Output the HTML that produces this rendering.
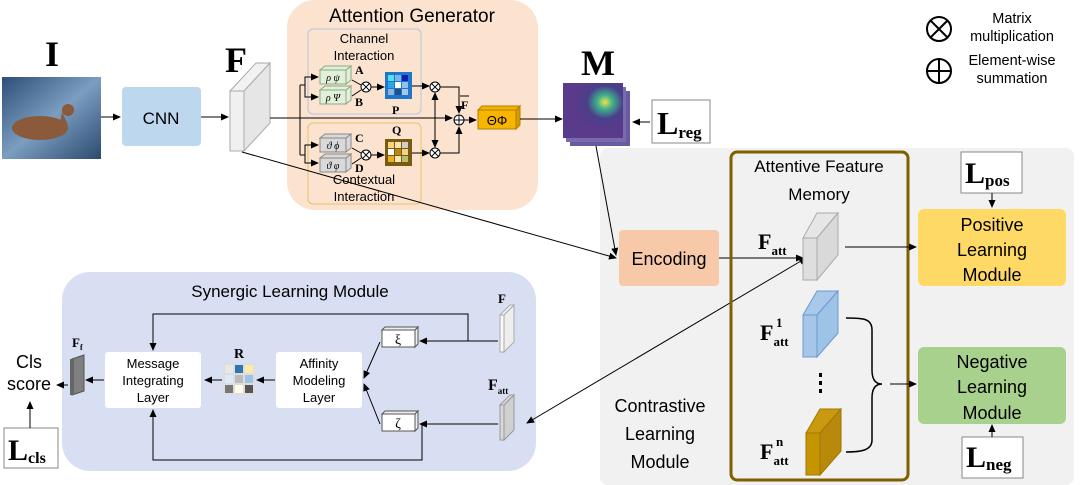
<!DOCTYPE html>
<html><head><meta charset="utf-8"><style>
html,body{margin:0;padding:0;background:#fff}
svg{display:block}
.s{font-family:"Liberation Sans","DejaVu Sans",sans-serif}
.r{font-family:"Liberation Serif",serif;font-weight:bold}
</style></head><body>
<svg width="1080" height="485" viewBox="0 0 1080 485" xmlns="http://www.w3.org/2000/svg">
<defs>
<marker id="a" markerWidth="8" markerHeight="8" refX="7" refY="4" orient="auto-start-reverse" markerUnits="userSpaceOnUse"><path d="M0,0.5 L8,4 L0,7.5z" fill="#000"/></marker>
<linearGradient id="w" x1="0" y1="0" x2="1" y2="1"><stop offset="0" stop-color="#2d4f78"/><stop offset=".5" stop-color="#7a9dc0"/><stop offset="1" stop-color="#2b4a6e"/></linearGradient>
<radialGradient id="hm" cx=".7" cy=".35" r=".5"><stop offset="0" stop-color="#f4e04a"/><stop offset=".25" stop-color="#3fb38a"/><stop offset=".6" stop-color="#4a3f8c"/><stop offset="1" stop-color="#5a3a8a"/></radialGradient>
</defs>
<!-- panels -->
<rect x="287" y="0" width="251" height="210" rx="28" fill="#fbe3d0"/>
<rect x="600" y="148" width="474" height="337" rx="8" fill="#f1f1f1"/>
<rect x="62" y="272" width="474" height="199" rx="28" fill="#d9dff2"/>
<text x="412" y="22" class="s" font-size="19" text-anchor="middle">Attention Generator</text>
<rect x="308" y="29" width="113" height="85" rx="5" fill="none" stroke="#b9c3de"/>
<rect x="308" y="123" width="113" height="81" rx="5" fill="none" stroke="#e9c06a"/>
<text x="364" y="43" class="s" font-size="13" text-anchor="middle">Channel</text>
<text x="364" y="60" class="s" font-size="13" text-anchor="middle">Interaction</text>
<text x="364" y="184" class="s" font-size="13" text-anchor="middle">Contextual</text>
<text x="364" y="201" class="s" font-size="13" text-anchor="middle">Interaction</text>
<!-- image -->
<rect x="2" y="77" width="99" height="82" fill="url(#w)"/>
<ellipse cx="40" cy="128" rx="28" ry="12" fill="#8a5a3a"/>
<circle cx="68" cy="110" r="6" fill="#8a5a3a"/>
<path d="M62,112 L68,125 L60,124z" fill="#8a5a3a"/>
<text x="52" y="66" class="r" font-size="36" text-anchor="middle">I</text>
<rect x="122" y="87" width="79" height="59" rx="4" fill="#bdd7ee"/>
<text x="161" y="124" class="s" font-size="17" text-anchor="middle">CNN</text>
<line x1="101" y1="117" x2="120" y2="117" stroke="#000" marker-end="url(#a)"/>
<line x1="201" y1="117" x2="228" y2="117" stroke="#000" marker-end="url(#a)"/>
<!-- F cube -->
<polygon points="230,91 256,63 270,63 244,91" fill="#f2f2f2" stroke="#aaa"/>
<polygon points="244,91 270,63 270,123 244,151" fill="#e6e6e6" stroke="#aaa"/>
<rect x="230" y="91" width="14" height="60" fill="#f0f0f0" stroke="#aaa"/>
<text x="236" y="72" class="r" font-size="36" text-anchor="middle">F</text>
<!-- main line -->
<line x1="270" y1="118" x2="452" y2="118" stroke="#000" marker-end="url(#a)"/>
<polyline points="300,118 300,85 300,155" fill="none" stroke="#000"/>
<line x1="300" y1="85" x2="305" y2="85" stroke="#000"/>
<line x1="300" y1="155" x2="305" y2="155" stroke="#000"/>
<polyline points="305,85 305,77 318,77" fill="none" stroke="#000" marker-end="url(#a)"/>
<polyline points="305,85 305,97 318,97" fill="none" stroke="#000" marker-end="url(#a)"/>
<polyline points="305,155 305,145 318,145" fill="none" stroke="#000" marker-end="url(#a)"/>
<polyline points="305,155 305,163 318,163" fill="none" stroke="#000" marker-end="url(#a)"/>
<!-- small cubes -->
<g font-family="Liberation Serif,serif" font-size="10" font-style="italic">
<g fill="#e2efd9" stroke="#8a8"><rect x="320" y="70" width="26" height="14"/><polygon points="346,70 351,66 351,80 346,84"/><polygon points="320,70 325,66 351,66 346,70"/>
<rect x="320" y="90" width="26" height="14"/><polygon points="346,90 351,86 351,100 346,104"/><polygon points="320,90 325,86 351,86 346,90"/></g>
<text x="333" y="81" text-anchor="middle">ρ ψ</text><text x="333" y="101" text-anchor="middle">ρ Ψ</text>
<g fill="#d9d9d9" stroke="#888"><rect x="320" y="138" width="26" height="14"/><polygon points="346,138 351,134 351,148 346,152"/><polygon points="320,138 325,134 351,134 346,138"/>
<rect x="320" y="158" width="26" height="14"/><polygon points="346,158 351,154 351,168 346,172"/><polygon points="320,158 325,154 351,154 346,158"/></g>
<text x="333" y="149" text-anchor="middle">ϑ ϕ</text><text x="333" y="169" text-anchor="middle">ϑ φ</text>
</g>
<g class="r" font-size="12"><text x="355" y="74">A</text><text x="355" y="106">B</text><text x="355" y="142">C</text><text x="355" y="172">D</text><text x="392" y="114">P</text><text x="392" y="134">Q</text><text x="461" y="109">F</text></g>
<line x1="460" y1="96" x2="469" y2="96" stroke="#000"/>
<line x1="412" y1="86" x2="429" y2="86" stroke="#000" marker-end="url(#a)"/>
<line x1="412" y1="153" x2="429" y2="153" stroke="#000" marker-end="url(#a)"/>
<line x1="435" y1="93" x2="435" y2="147" stroke="#000" marker-start="url(#a)" marker-end="url(#a)"/>
<polyline points="440,87 459,87 459,113" fill="none" stroke="#000" marker-end="url(#a)"/>
<polyline points="440,153 459,153 459,127" fill="none" stroke="#000" marker-end="url(#a)"/>
<line x1="464" y1="120" x2="476" y2="120" stroke="#000" marker-end="url(#a)"/>
<!-- otimes symbols -->
<g fill="#fff" stroke="#000">
<circle cx="366" cy="87" r="5"/><circle cx="366" cy="155" r="5"/><circle cx="435" cy="87" r="5"/><circle cx="435" cy="153" r="5"/><circle cx="459" cy="120" r="5"/>
</g>
<g stroke="#000" stroke-width="0.9">
<path d="M362.5,83.5l7,7M369.5,83.5l-7,7M362.5,151.5l7,7M369.5,151.5l-7,7M431.5,83.5l7,7M438.5,83.5l-7,7M431.5,149.5l7,7M438.5,149.5l-7,7M454,120h10M459,115v10"/>
</g>
<line x1="352" y1="80" x2="361" y2="85" stroke="#000"/><line x1="352" y1="96" x2="361" y2="90" stroke="#000"/>
<line x1="352" y1="148" x2="361" y2="153" stroke="#000"/><line x1="352" y1="164" x2="361" y2="158" stroke="#000"/>
<line x1="371" y1="87" x2="384" y2="87" stroke="#000" marker-end="url(#a)"/>
<line x1="371" y1="155" x2="384" y2="155" stroke="#000" marker-end="url(#a)"/>
<!-- P matrix -->
<rect x="385" y="72" width="27" height="27" fill="#1f77c9"/>
<rect x="388" y="75" width="6" height="6" fill="#55dfe8"/><rect x="395" y="75" width="6" height="6" fill="#7ab6e8"/><rect x="402" y="75" width="6" height="6" fill="#1020b0"/>
<rect x="388" y="82" width="6" height="6" fill="#2fa4e8"/><rect x="395" y="82" width="6" height="6" fill="#fff"/><rect x="402" y="82" width="6" height="6" fill="#8bc2ee"/>
<rect x="388" y="89" width="6" height="6" fill="#8ab4dd"/><rect x="395" y="89" width="6" height="6" fill="#1f4f8c"/><rect x="402" y="89" width="6" height="6" fill="#a8c8e8"/>
<!-- Q matrix -->
<rect x="385" y="139" width="27" height="27" fill="#7a5a10"/>
<rect x="388" y="142" width="6" height="6" fill="#f5d77a"/><rect x="395" y="142" width="6" height="6" fill="#f7e6a8"/><rect x="402" y="142" width="6" height="6" fill="#cfcfcf"/>
<rect x="388" y="149" width="6" height="6" fill="#fff"/><rect x="395" y="149" width="6" height="6" fill="#b78a10"/><rect x="402" y="149" width="6" height="6" fill="#f3d28a"/>
<rect x="388" y="156" width="6" height="6" fill="#e9b020"/><rect x="395" y="156" width="6" height="6" fill="#f7e8b8"/><rect x="402" y="156" width="6" height="6" fill="#b8c070"/>
<!-- ThetaPhi -->
<polygon points="478,110 482,106 520,106 516,110" fill="#f4b400" stroke="#b08000"/>
<polygon points="516,110 520,106 520,125 516,129" fill="#d89a00" stroke="#b08000"/>
<rect x="478" y="110" width="38" height="19" fill="#f7b500" stroke="#b08000"/>
<text x="497" y="125" class="s" font-size="13" text-anchor="middle">ΘΦ</text>
<line x1="520" y1="119" x2="562" y2="119" stroke="#000" marker-end="url(#a)"/>
<!-- M -->
<text x="598" y="75" class="r" font-size="36" text-anchor="middle">M</text>
<rect x="570" y="91" width="60" height="55" fill="#6a5aa0"/>
<rect x="566" y="87" width="60" height="55" fill="#7a6ab0"/>
<rect x="563" y="83" width="60" height="55" fill="url(#hm)"/>
<rect x="652" y="100" width="58" height="43" fill="#fff" stroke="#888"/>
<text x="657" y="134" class="r" font-size="32">L<tspan font-size="17" dy="4">reg</tspan></text>
<line x1="650" y1="122" x2="633" y2="122" stroke="#000" marker-end="url(#a)"/>
<!-- legend -->
<circle cx="939" cy="29" r="12" fill="none" stroke="#000" stroke-width="2"/>
<path d="M931,21l16,16M947,21l-16,16" stroke="#000" stroke-width="2"/>
<circle cx="939" cy="71" r="12" fill="none" stroke="#000" stroke-width="2"/>
<path d="M927,71h24M939,59v24" stroke="#000" stroke-width="2"/>
<g class="s" font-size="14.5" text-anchor="middle"><text x="1012" y="23">Matrix</text><text x="1012" y="41">multiplication</text><text x="1012" y="65">Element-wise</text><text x="1012" y="83">summation</text></g>
<!-- connectors to encoding/memory -->
<line x1="596" y1="146" x2="616" y2="255" stroke="#000" marker-end="url(#a)"/>
<line x1="242" y1="152" x2="616" y2="258" stroke="#000" marker-end="url(#a)"/>
<line x1="806" y1="258" x2="527" y2="423" stroke="#000" marker-start="url(#a)" marker-end="url(#a)"/>
<!-- contrastive -->
<rect x="619" y="230" width="100" height="56" rx="4" fill="#f8c9a8"/>
<text x="669" y="265" class="s" font-size="18" text-anchor="middle">Encoding</text>
<line x1="719" y1="258" x2="803" y2="258" stroke="#000" marker-end="url(#a)"/>
<rect x="731" y="152" width="177" height="328" rx="6" fill="none" stroke="#7f6000" stroke-width="3"/>
<text x="819" y="172" class="s" font-size="17" text-anchor="middle">Attentive Feature</text>
<text x="819" y="200" class="s" font-size="17" text-anchor="middle">Memory</text>
<!-- Fatt gray -->
<polygon points="803,238 817,213 838,213 817,238" fill="#e6e6e6" stroke="#aaa"/>
<polygon points="817,238 838,213 838,255 817,280" fill="#d9d9d9" stroke="#aaa"/>
<rect x="803" y="238" width="14" height="42" fill="#dedede" stroke="#aaa"/>
<!-- blue -->
<polygon points="803,315 817,291 838,291 817,315" fill="#a9c9ea" stroke="#6a9ad0"/>
<polygon points="817,315 838,291 838,333 817,357" fill="#9dc3e6" stroke="#6a9ad0"/>
<rect x="803" y="315" width="14" height="42" fill="#a5c6e8" stroke="#6a9ad0"/>
<!-- gold -->
<polygon points="806,433 820,409 841,409 820,433" fill="#c99a10" stroke="#a07800"/>
<polygon points="820,433 841,409 841,451 820,475" fill="#b8890a" stroke="#a07800"/>
<rect x="806" y="433" width="14" height="42" fill="#c59500" stroke="#a07800"/>
<g class="r"><text x="758" y="249" font-size="22">F<tspan font-size="13" dy="6">att</tspan></text>
<text x="760" y="340" font-size="22">F<tspan font-size="13" dy="6">att</tspan></text><text x="776" y="327" font-size="13">1</text>
<text x="760" y="459" font-size="22">F<tspan font-size="13" dy="6">att</tspan></text><text x="776" y="446" font-size="13">n</text></g>
<g fill="#000"><rect x="819" y="373" width="3" height="4"/><rect x="819" y="381" width="3" height="4"/><rect x="819" y="389" width="3" height="4"/></g>
<path d="M846,318 C862,318 872,318 872,330 L872,370 C872,380 876,384 882,384 C876,384 872,388 872,398 L872,440 C872,450 862,452 846,452" fill="none" stroke="#000" stroke-width="1.5"/>
<line x1="890" y1="384" x2="916" y2="384" stroke="#000" marker-end="url(#a)"/>
<line x1="845" y1="247" x2="916" y2="247" stroke="#000" marker-end="url(#a)"/>
<g class="s" font-size="18" text-anchor="middle"><text x="660" y="412">Contrastive</text><text x="660" y="440">Learning</text><text x="660" y="468">Module</text></g>
<rect x="918" y="209" width="148" height="77" rx="6" fill="#ffd966"/>
<g class="s" font-size="18" text-anchor="middle"><text x="992" y="231">Positive</text><text x="992" y="256">Learning</text><text x="992" y="281">Module</text></g>
<rect x="918" y="347" width="148" height="77" rx="6" fill="#a9d18e"/>
<g class="s" font-size="18" text-anchor="middle"><text x="992" y="368">Negative</text><text x="992" y="393">Learning</text><text x="992" y="419">Module</text></g>
<rect x="961" y="152" width="61" height="41" fill="#fff" stroke="#888"/>
<text x="965" y="183" class="r" font-size="30">L<tspan font-size="17" dy="3">pos</tspan></text>
<line x1="992" y1="193" x2="992" y2="207" stroke="#000" marker-end="url(#a)"/>
<rect x="962" y="437" width="61" height="41" fill="#fff" stroke="#888"/>
<text x="966" y="467" class="r" font-size="30">L<tspan font-size="17" dy="3">neg</tspan></text>
<line x1="992" y1="437" x2="992" y2="425" stroke="#000" marker-end="url(#a)"/>
<!-- synergic -->
<text x="290" y="297" class="s" font-size="17" text-anchor="middle">Synergic Learning Module</text>
<rect x="105" y="352" width="96" height="56" rx="3" fill="#fff"/>
<g class="s" font-size="13" text-anchor="middle"><text x="153" y="368">Message</text><text x="153" y="385">Integrating</text><text x="153" y="402">Layer</text></g>
<rect x="276" y="352" width="86" height="56" rx="3" fill="#fff"/>
<g class="s" font-size="13" text-anchor="middle"><text x="319" y="368">Affinity</text><text x="319" y="385">Modeling</text><text x="319" y="402">Layer</text></g>
<rect x="223" y="363" width="32" height="32" fill="#ddd"/>
<rect x="225" y="365" width="8" height="8" fill="#e8e8e8"/><rect x="235" y="365" width="8" height="8" fill="#2e75b6"/><rect x="245" y="365" width="8" height="8" fill="#ffe9a8"/>
<rect x="225" y="375" width="8" height="8" fill="#ddebf7"/><rect x="235" y="375" width="8" height="8" fill="#bbb"/><rect x="245" y="375" width="8" height="8" fill="#9dc3e6"/>
<rect x="225" y="385" width="8" height="8" fill="#777"/><rect x="235" y="385" width="8" height="8" fill="#fffbe8"/><rect x="245" y="385" width="8" height="8" fill="#555"/>
<text x="239" y="358" class="r" font-size="14" text-anchor="middle">R</text>
<line x1="275" y1="380" x2="257" y2="380" stroke="#000" marker-end="url(#a)"/>
<line x1="222" y1="380" x2="205" y2="380" stroke="#000" marker-end="url(#a)"/>
<line x1="104" y1="380" x2="86" y2="380" stroke="#000" marker-end="url(#a)"/>
<!-- Ff -->
<polygon points="72,359 84,355 84,391 72,395" fill="#7f7f7f" stroke="#555"/>
<rect x="70" y="359" width="4" height="36" fill="#666"/>
<text x="72" y="347" class="r" font-size="13">F<tspan font-size="8" dy="3">f</tspan></text>
<text x="29" y="368" class="s" font-size="18" text-anchor="middle">Cls</text>
<text x="29" y="390" class="s" font-size="18" text-anchor="middle">score</text>
<line x1="68" y1="385" x2="57" y2="385" stroke="#000" marker-end="url(#a)"/>
<rect x="4" y="428" width="54" height="40" fill="#fff" stroke="#888"/>
<text x="8" y="460" class="r" font-size="30">L<tspan font-size="16" dy="3">cls</tspan></text>
<line x1="30" y1="428" x2="30" y2="402" stroke="#000" marker-end="url(#a)"/>
<!-- xi zeta -->
<rect x="382" y="330" width="33" height="17" fill="#fff" stroke="#555"/><polygon points="415,330 418,327 418,344 415,347" fill="#eee" stroke="#555"/><polygon points="382,330 385,327 418,327 415,330" fill="#eee" stroke="#555"/>
<text x="398" y="344" font-family="Liberation Serif,serif" font-size="14" text-anchor="middle">ξ</text>
<rect x="382" y="414" width="33" height="17" fill="#fff" stroke="#555"/><polygon points="415,414 418,411 418,428 415,431" fill="#eee" stroke="#555"/><polygon points="382,414 385,411 418,411 415,414" fill="#eee" stroke="#555"/>
<text x="398" y="428" font-family="Liberation Serif,serif" font-size="14" text-anchor="middle">ζ</text>
<!-- F small -->
<polygon points="500,315 510,305 514,305 504,315" fill="#f5f5f5" stroke="#aaa"/>
<polygon points="504,315 514,305 514,342 504,352" fill="#eee" stroke="#aaa"/>
<rect x="500" y="315" width="4" height="37" fill="#f8f8f8" stroke="#aaa"/>
<text x="502" y="303" class="r" font-size="13" text-anchor="middle">F</text>
<polygon points="500,405 510,395 514,395 504,405" fill="#ddd" stroke="#999"/>
<polygon points="504,405 514,395 514,430 504,440" fill="#d0d0d0" stroke="#999"/>
<rect x="500" y="405" width="4" height="35" fill="#d8d8d8" stroke="#999"/>
<text x="488" y="390" class="r" font-size="16">F<tspan font-size="9" dy="4">att</tspan></text>
<line x1="498" y1="341" x2="420" y2="341" stroke="#000" marker-end="url(#a)"/>
<polyline points="468,341 468,314 153,314 153,350" fill="none" stroke="#000" marker-end="url(#a)"/>
<line x1="498" y1="424" x2="420" y2="424" stroke="#000" marker-end="url(#a)"/>
<polyline points="422,424 422,460 153,460 153,410" fill="none" stroke="#000" marker-end="url(#a)"/>
<line x1="380" y1="342" x2="364" y2="378" stroke="#000" marker-end="url(#a)"/>
<line x1="380" y1="424" x2="364" y2="384" stroke="#000" marker-end="url(#a)"/>
</svg>
</body></html>
